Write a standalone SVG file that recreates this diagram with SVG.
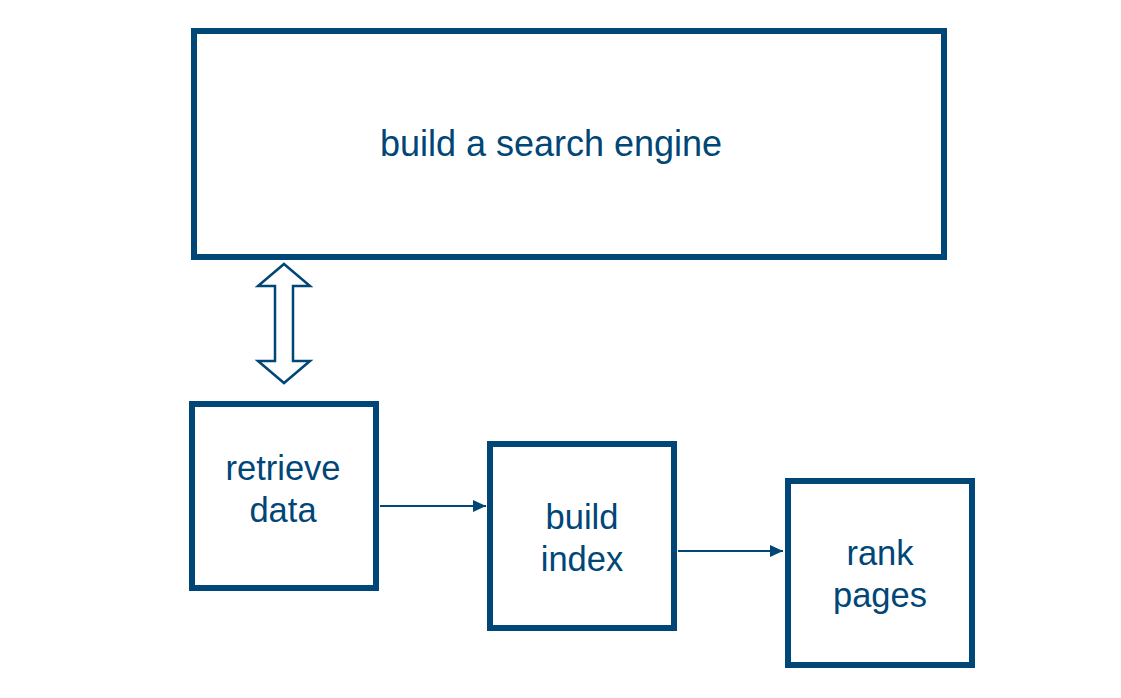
<svg xmlns="http://www.w3.org/2000/svg" width="1121" height="698" viewBox="0 0 1121 698">
<style>
.box{fill:#ffffff;stroke:#004677;stroke-width:6}
.t{font-family:"Liberation Sans",Arial,sans-serif;font-size:34.5px;fill:#004677;text-anchor:middle}
.c{stroke:#004677;stroke-width:2;fill:none}
</style>
<defs>
<marker id="ah" markerUnits="userSpaceOnUse" markerWidth="14" markerHeight="14" refX="13" refY="6" orient="auto">
<path d="M0,0 L13,6 L0,12 Z" fill="#004677"/>
</marker>
</defs>
<rect width="1121" height="698" fill="#ffffff"/>
<g id="search-engine">
<rect class="box" x="194" y="31" width="750" height="226"/>
<text class="t" x="551" y="156" style="font-size:36px">build a search engine</text>
</g>
<g id="retrieve-data">
<rect class="box" x="192" y="404" width="184" height="184"/>
<text class="t" x="283" y="480">retrieve</text>
<text class="t" x="283" y="522">data</text>
</g>
<g id="build-index">
<rect class="box" x="490" y="444" width="184" height="184"/>
<text class="t" x="582" y="529">build</text>
<text class="t" x="582" y="571">index</text>
</g>
<g id="rank-pages">
<rect class="box" x="788" y="481" width="184" height="184"/>
<text class="t" x="880" y="565">rank</text>
<text class="t" x="880" y="607">pages</text>
</g>
<g id="connectors">
<path d="M284,264 L310,286 L293,286 L293,361 L310,361 L284,383 L258,361 L275,361 L275,286 L258,286 Z" fill="#ffffff" stroke="#004677" stroke-width="2.5"/>
<line class="c" x1="380" y1="506" x2="486" y2="506" marker-end="url(#ah)"/>
<line class="c" x1="678" y1="551" x2="783" y2="551" marker-end="url(#ah)"/>
</g>
</svg>
